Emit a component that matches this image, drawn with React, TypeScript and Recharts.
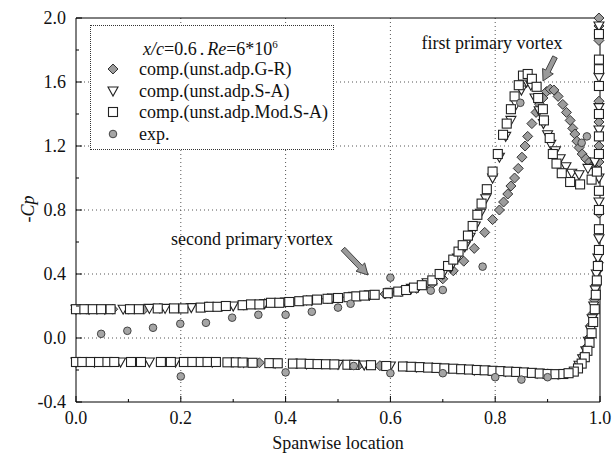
import React from "react";
import { ScatterChart, Scatter, XAxis, YAxis, CartesianGrid } from "recharts";

type Pt = [number, number];

const xTicks = [0, 0.1, 0.2, 0.3, 0.4, 0.5, 0.6, 0.7, 0.8, 0.9, 1.0];
const yTicks = [-0.4, -0.2, 0, 0.2, 0.4, 0.6, 0.8, 1.0, 1.2, 1.4, 1.6, 1.8, 2.0];
const xGrid = [0.2, 0.4, 0.6, 0.8];
const yGrid = [0, 0.4, 0.8, 1.2, 1.6];

// comp.(unst.adp.Mod.S-A) – squares
const modSaUpper: Pt[] = [
  [0.0, 0.18], [0.016, 0.18], [0.032, 0.18], [0.048, 0.18], [0.066, 0.18], [0.103, 0.18],
  [0.12, 0.18], [0.156, 0.185], [0.187, 0.185], [0.205, 0.185], [0.238, 0.19], [0.254, 0.195],
  [0.27, 0.195], [0.286, 0.2], [0.318, 0.205], [0.334, 0.21], [0.35, 0.21], [0.372, 0.22],
  [0.388, 0.22], [0.407, 0.225], [0.426, 0.23], [0.442, 0.235], [0.46, 0.24], [0.48, 0.245],
  [0.5, 0.25], [0.52, 0.255], [0.535, 0.26], [0.55, 0.265], [0.57, 0.27], [0.595, 0.28],
  [0.615, 0.29], [0.63, 0.3], [0.645, 0.315], [0.66, 0.33], [0.68, 0.36], [0.694, 0.4],
  [0.71, 0.45], [0.72, 0.49], [0.73, 0.54], [0.738, 0.58], [0.748, 0.64], [0.757, 0.7],
  [0.766, 0.77], [0.774, 0.84], [0.784, 0.93], [0.795, 1.04], [0.805, 1.15], [0.815, 1.27],
  [0.822, 1.34], [0.83, 1.43], [0.837, 1.51], [0.845, 1.58], [0.853, 1.64], [0.862, 1.65],
  [0.87, 1.62], [0.879, 1.57], [0.882, 1.5], [0.891, 1.43], [0.893, 1.36], [0.904, 1.25],
  [0.91, 1.15], [0.917, 1.09], [0.927, 1.03], [0.943, 0.975], [0.962, 0.96], [0.984, 0.99],
  [0.994, 1.04],
];
const modSaTip: Pt[] = [
  [0.998, 1.9], [0.998, 1.74], [0.998, 1.68], [0.998, 1.575], [0.998, 1.4], [0.998, 1.26],
  [0.998, 1.15], [0.998, 0.92], [0.998, 0.8], [0.998, 0.68], [0.998, 0.55], [0.996, 0.45],
  [0.994, 0.36], [0.992, 0.27], [0.99, 0.18], [0.987, 0.1], [0.984, 0.03], [0.98, -0.03],
  [0.976, -0.08], [0.971, -0.12], [0.965, -0.16], [0.958, -0.19], [0.95, -0.21],
];
const modSaLower: Pt[] = [
  [0.0, -0.15], [0.012, -0.15], [0.028, -0.15], [0.044, -0.15], [0.06, -0.15], [0.073, -0.15],
  [0.105, -0.15], [0.124, -0.15], [0.162, -0.15], [0.181, -0.15], [0.206, -0.15], [0.222, -0.15],
  [0.238, -0.15], [0.251, -0.15], [0.267, -0.15], [0.289, -0.152], [0.305, -0.152], [0.318, -0.153],
  [0.337, -0.155], [0.369, -0.157], [0.385, -0.158], [0.414, -0.16], [0.43, -0.16], [0.446, -0.162],
  [0.461, -0.163], [0.477, -0.164], [0.493, -0.165], [0.518, -0.167], [0.531, -0.168], [0.563, -0.17],
  [0.592, -0.175], [0.624, -0.178], [0.64, -0.18], [0.656, -0.182], [0.672, -0.185], [0.688, -0.187],
  [0.703, -0.19], [0.72, -0.192], [0.735, -0.195], [0.75, -0.197], [0.765, -0.2], [0.78, -0.202],
  [0.795, -0.205], [0.81, -0.207], [0.825, -0.21], [0.84, -0.212], [0.855, -0.215], [0.87, -0.218],
  [0.885, -0.222], [0.9, -0.225], [0.915, -0.226], [0.93, -0.225], [0.94, -0.22],
];

// comp.(unst.adp.S-A) – down triangles
const saUpper: Pt[] = [
  [0.0, 0.18], [0.025, 0.18], [0.055, 0.18], [0.09, 0.18], [0.14, 0.185], [0.17, 0.185],
  [0.22, 0.19], [0.3, 0.2], [0.36, 0.215], [0.4, 0.225], [0.45, 0.235], [0.49, 0.25],
  [0.53, 0.26], [0.56, 0.27], [0.6, 0.285], [0.64, 0.31], [0.67, 0.345], [0.7, 0.4],
  [0.715, 0.44], [0.728, 0.5], [0.742, 0.57], [0.752, 0.63], [0.762, 0.7], [0.772, 0.78],
  [0.782, 0.87], [0.795, 1.0], [0.808, 1.13], [0.82, 1.26], [0.83, 1.36], [0.84, 1.46],
  [0.85, 1.55], [0.86, 1.6], [0.868, 1.58], [0.876, 1.5], [0.884, 1.42], [0.892, 1.34],
  [0.9, 1.27], [0.906, 1.21], [0.915, 1.17], [0.924, 1.12], [0.935, 1.07], [0.946, 1.03],
  [0.96, 1.02], [0.977, 1.06], [0.99, 1.1],
];
const saTip: Pt[] = [
  [0.998, 1.95], [0.998, 1.63], [0.998, 1.44], [0.998, 1.3], [0.998, 1.0], [0.998, 0.85],
  [0.998, 0.62], [0.996, 0.5], [0.993, 0.4], [0.991, 0.3], [0.988, 0.2], [0.985, 0.12],
  [0.982, 0.05], [0.978, -0.02], [0.973, -0.08], [0.967, -0.13], [0.96, -0.17],
];
const saLower: Pt[] = [
  [0.0, -0.15], [0.035, -0.15], [0.085, -0.15], [0.14, -0.15], [0.19, -0.15], [0.26, -0.15],
  [0.32, -0.153], [0.38, -0.157], [0.44, -0.161], [0.5, -0.165], [0.55, -0.169], [0.6, -0.175],
  [0.65, -0.181], [0.7, -0.19], [0.76, -0.2], [0.82, -0.209], [0.88, -0.22], [0.92, -0.226],
];

// comp.(unst.adp.G-R) – diamonds
const grUpper: Pt[] = [
  [0.0, 0.18], [0.02, 0.18], [0.04, 0.18], [0.07, 0.18], [0.1, 0.18], [0.13, 0.18],
  [0.16, 0.185], [0.2, 0.185], [0.25, 0.195], [0.28, 0.2], [0.32, 0.205], [0.36, 0.215],
  [0.4, 0.225], [0.44, 0.235], [0.48, 0.245], [0.52, 0.255], [0.56, 0.265], [0.59, 0.275],
  [0.62, 0.29], [0.65, 0.31], [0.68, 0.34], [0.7, 0.37], [0.72, 0.42], [0.74, 0.48],
  [0.76, 0.56], [0.78, 0.66], [0.795, 0.74], [0.808, 0.8], [0.816, 0.85], [0.824, 0.9],
  [0.83, 0.95], [0.837, 1.0], [0.844, 1.06], [0.851, 1.13], [0.857, 1.2], [0.862, 1.26],
  [0.87, 1.34], [0.878, 1.41], [0.885, 1.46], [0.891, 1.5], [0.898, 1.54], [0.905, 1.555],
  [0.912, 1.55], [0.92, 1.51], [0.929, 1.46], [0.936, 1.41], [0.943, 1.36], [0.948, 1.31],
  [0.952, 1.275], [0.956, 1.23], [0.96, 1.19], [0.966, 1.15], [0.973, 1.12], [0.98, 1.1],
  [0.987, 1.08], [0.992, 1.1],
];
const grTip: Pt[] = [
  [0.998, 2.0], [0.998, 1.95], [0.998, 1.9], [0.998, 1.86], [0.998, 1.48], [0.998, 1.35],
  [0.998, 1.2], [0.998, 1.1], [0.998, 0.78], [0.997, 0.47], [0.995, 0.42], [0.992, 0.33],
  [0.989, 0.24], [0.986, 0.15], [0.983, 0.08], [0.979, 0.0], [0.974, -0.06], [0.968, -0.11],
  [0.961, -0.16],
];
const grLower: Pt[] = [
  [0.0, -0.15], [0.05, -0.15], [0.11, -0.15], [0.17, -0.15], [0.23, -0.15], [0.3, -0.152],
  [0.35, -0.155], [0.42, -0.16], [0.47, -0.163], [0.54, -0.168], [0.58, -0.173], [0.63, -0.179],
  [0.68, -0.186], [0.73, -0.194], [0.79, -0.204], [0.85, -0.214], [0.9, -0.224], [0.935, -0.223],
];

// exp. – gray circles
const expUpper: Pt[] = [
  [0.048, 0.026], [0.098, 0.045], [0.147, 0.064], [0.199, 0.089], [0.248, 0.095], [0.298, 0.127],
  [0.348, 0.145], [0.4, 0.145], [0.45, 0.164], [0.5, 0.19], [0.524, 0.214], [0.6, 0.377],
  [0.677, 0.296], [0.7, 0.3], [0.776, 0.446], [0.848, 1.47], [0.965, 1.22], [0.975, 1.26],
];
const expLower: Pt[] = [
  [0.2, -0.24], [0.4, -0.215], [0.53, -0.175], [0.6, -0.22], [0.7, -0.22], [0.8, -0.245],
  [0.85, -0.26], [0.9, -0.245],
];

const toData = (...parts: Pt[][]) => parts.flat().map(([x, y]) => ({ x, y }));

const FONT = '"Liberation Serif", "Times New Roman", Times, serif';
const FS = 18;

const SquareShape = (p: any) => (
  <rect x={p.cx - 4.5} y={p.cy - 4.5} width={9} height={9} fill="#fff" stroke="#222" strokeWidth={1.1} />
);
const TriangleShape = (p: any) => (
  <polygon
    points={`${p.cx - 5},${p.cy - 4} ${p.cx + 5},${p.cy - 4} ${p.cx},${p.cy + 5}`}
    fill="#fff"
    stroke="#222"
    strokeWidth={1.1}
  />
);
const DiamondShape = (p: any) => (
  <polygon
    points={`${p.cx},${p.cy - 5} ${p.cx + 5},${p.cy} ${p.cx},${p.cy + 5} ${p.cx - 5},${p.cy}`}
    fill="#9c9c9c"
    stroke="#333"
    strokeWidth={1}
  />
);
const CircleShape = (p: any) => (
  <circle cx={p.cx} cy={p.cy} r={3.8} fill="#a5a5a5" stroke="#444" strokeWidth={1} />
);

const isMajorX = (v: number) => Math.abs(v * 5 - Math.round(v * 5)) < 1e-6;
const isMajorY = (v: number) => Math.abs(v / 0.4 - Math.round(v / 0.4)) < 1e-6;

const BottomTick = ({ x, y, payload }: any) => {
  const major = isMajorX(payload.value);
  return (
    <g>
      <line x1={x} x2={x} y1={y} y2={y - (major ? 6 : 3)} stroke="#000" />
      {major && (
        <text x={x} y={y + 22} textAnchor="middle" fontSize={FS} fontFamily={FONT} fill="#111">
          {payload.value.toFixed(1)}
        </text>
      )}
    </g>
  );
};
const TopTick = ({ x, y, payload }: any) => {
  const major = isMajorX(payload.value);
  return <line x1={x} x2={x} y1={y} y2={y + (major ? 6 : 3)} stroke="#000" />;
};
const LeftTick = ({ x, y, payload }: any) => {
  const major = isMajorY(payload.value);
  return (
    <g>
      <line x1={x} x2={x + (major ? 6 : 3)} y1={y} y2={y} stroke="#000" />
      {major && (
        <text x={x - 10} y={y + 6} textAnchor="end" fontSize={FS} fontFamily={FONT} fill="#111">
          {payload.value.toFixed(1)}
        </text>
      )}
    </g>
  );
};
const RightTick = ({ x, y, payload }: any) => {
  const major = isMajorY(payload.value);
  return <line x1={x} x2={x - (major ? 6 : 3)} y1={y} y2={y} stroke="#000" />;
};

const legendItems = [
  { label: "comp.(unst.adp.G-R)", shape: DiamondShape },
  { label: "comp.(unst.adp.S-A)", shape: TriangleShape },
  { label: "comp.(unst.adp.Mod.S-A)", shape: SquareShape },
  { label: "exp.", shape: CircleShape },
];

function Arrow({ x1, y1, x2, y2 }: { x1: number; y1: number; x2: number; y2: number }) {
  const dx = x2 - x1;
  const dy = y2 - y1;
  const len = Math.hypot(dx, dy);
  const ux = dx / len;
  const uy = dy / len;
  const nx = -uy;
  const ny = ux;
  const head = 11;
  const bx = x2 - ux * head;
  const by = y2 - uy * head;
  const sw = 2.5;
  const hw = 6;
  const pts = [
    [x1 + nx * sw, y1 + ny * sw],
    [bx + nx * sw, by + ny * sw],
    [bx + nx * hw, by + ny * hw],
    [x2, y2],
    [bx - nx * hw, by - ny * hw],
    [bx - nx * sw, by - ny * sw],
    [x1 - nx * sw, y1 - ny * sw],
  ]
    .map((p) => p.join(","))
    .join(" ");
  return <polygon points={pts} fill="#9a9a9a" stroke="#333" strokeWidth={0.9} />;
}

export default function App() {
  const textStyle = { fontFamily: FONT, fontSize: FS, fill: "#111" };
  return (
    <div style={{ position: "absolute", left: 0, top: 0, width: 613, height: 466, background: "#fff" }}>
      <ScatterChart width={613} height={466} margin={{ top: 17, right: 12, bottom: 34, left: 16 }}>
        <CartesianGrid
          xAxisId="b"
          yAxisId="l"
          horizontalValues={yGrid}
          verticalValues={xGrid}
          stroke="#555"
          strokeDasharray="1 3"
        />
        <XAxis
          xAxisId="b"
          type="number"
          dataKey="x"
          domain={[0, 1]}
          ticks={xTicks}
          interval={0}
          height={30}
          tickSize={0}
          tickMargin={0}
          tickLine={false}
          tick={BottomTick}
          axisLine={{ stroke: "#000" }}
        />
        <XAxis
          xAxisId="t"
          orientation="top"
          type="number"
          dataKey="x"
          domain={[0, 1]}
          ticks={xTicks}
          interval={0}
          height={1}
          tickSize={0}
          tickMargin={0}
          tickLine={false}
          tick={TopTick}
          axisLine={{ stroke: "#000" }}
        />
        <YAxis
          yAxisId="l"
          type="number"
          dataKey="y"
          domain={[-0.4, 2.0]}
          ticks={yTicks}
          interval={0}
          width={60}
          tickSize={0}
          tickMargin={0}
          tickLine={false}
          tick={LeftTick}
          axisLine={{ stroke: "#000" }}
        />
        <YAxis
          yAxisId="r"
          orientation="right"
          type="number"
          dataKey="y"
          domain={[-0.4, 2.0]}
          ticks={yTicks}
          interval={0}
          width={1}
          tickSize={0}
          tickMargin={0}
          tickLine={false}
          tick={RightTick}
          axisLine={{ stroke: "#000" }}
        />
        <Scatter
          xAxisId="b"
          yAxisId="l"
          name="comp.(unst.adp.G-R)"
          data={toData(grUpper, grTip, grLower)}
          shape={DiamondShape}
          isAnimationActive={false}
        />
        <Scatter
          xAxisId="b"
          yAxisId="l"
          name="comp.(unst.adp.S-A)"
          data={toData(saUpper, saTip, saLower)}
          shape={TriangleShape}
          isAnimationActive={false}
        />
        <Scatter
          xAxisId="b"
          yAxisId="l"
          name="comp.(unst.adp.Mod.S-A)"
          data={toData(modSaUpper, modSaTip, modSaLower)}
          shape={SquareShape}
          isAnimationActive={false}
        />
        <Scatter
          xAxisId="b"
          yAxisId="l"
          name="exp."
          data={toData(expUpper, expLower)}
          shape={CircleShape}
          isAnimationActive={false}
        />
      </ScatterChart>

      {/* legend box */}
      <div
        style={{
          position: "absolute",
          left: 90,
          top: 25,
          width: 242,
          height: 123,
          border: "1px dotted #333",
          background: "#fff",
          fontFamily: FONT,
          fontSize: FS,
          color: "#111",
        }}
      >
        <div style={{ position: "absolute", left: 52, top: 6, lineHeight: "24px", whiteSpace: "nowrap" }}>
          <i>x/c</i>=0.6<span style={{ padding: "0 3px" }}>.</span>
          <i>Re</i>=6*10<sup style={{ fontSize: 11, verticalAlign: "7px" }}>6</sup>
        </div>
        {legendItems.map((it, i) => (
          <div key={it.label} style={{ position: "absolute", left: 0, top: 32 + i * 21.7, height: 22, whiteSpace: "nowrap" }}>
            <svg width={24} height={22} style={{ position: "absolute", left: 10, top: 0 }}>
              {it.shape({ cx: 12, cy: 11 })}
            </svg>
            <span style={{ position: "absolute", left: 48, top: 0, lineHeight: "22px" }}>{it.label}</span>
          </div>
        ))}
      </div>

      {/* axis titles and annotations */}
      <svg width={613} height={466} style={{ position: "absolute", left: 0, top: 0, pointerEvents: "none" }}>
        <text x={338} y={449} textAnchor="middle" {...textStyle}>
          Spanwise location
        </text>
        <text transform="translate(34,209) rotate(-90)" textAnchor="middle" {...textStyle}>
          -<tspan fontStyle="italic">Cp</tspan>
        </text>
        <text x={492} y={49} textAnchor="middle" {...textStyle}>
          first primary vortex
        </text>
        <text x={333} y={245} textAnchor="end" {...textStyle}>
          second primary vortex
        </text>
        <Arrow x1={555} y1={57} x2={543} y2={81} />
        <Arrow x1={343} y1={249} x2={368} y2={275} />
      </svg>
    </div>
  );
}
